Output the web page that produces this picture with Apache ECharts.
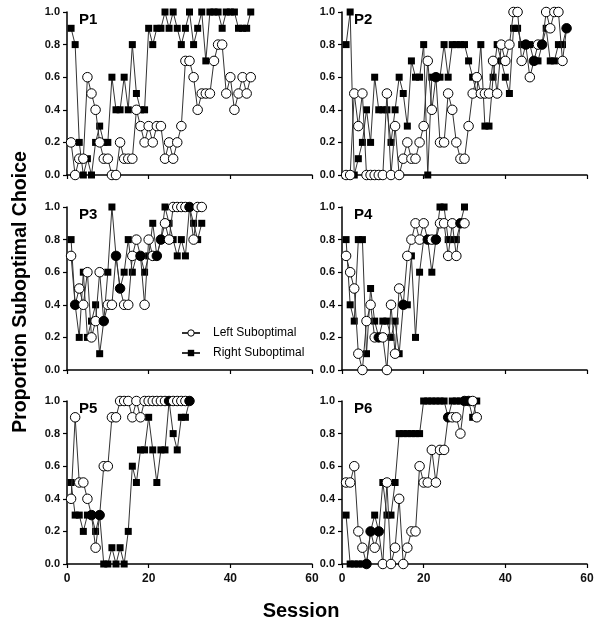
<!DOCTYPE html>
<html>
<head>
<meta charset="utf-8">
<script src="https://cdn.jsdelivr.net/npm/echarts@6/dist/echarts.min.js"></script>
<style>html,body{margin:0;padding:0;background:#fff}#c{width:602px;height:637px}</style>
</head>
<body>
<div id="c"></div>
<script>
// ---- Data (proportion suboptimal choice per session) ----
const panelNames = ['P1', 'P2', 'P3', 'P4', 'P5', 'P6'];
const yTicks = [0, 0.2, 0.4, 0.6, 0.8, 1.0];
const xTicks = [0, 20, 40, 60];

const p1Left  = [0.2,0.0,0.1,0.1,0.6,0.5,0.4,0.2,0.1,0.1,0.0,0.0,0.2,0.1,0.1,0.1,0.4,0.3,0.2,0.3,0.2,0.3,0.3,0.1,0.2,0.1,0.2,0.3,0.7,0.7,0.6,0.4,0.5,0.5,0.5,0.7,0.8,0.8,0.5,0.6,0.4,0.5,0.6,0.5,0.6];
const p1Right = [0.9,0.8,0.2,0.0,0.1,0.0,0.2,0.3,0.2,0.2,0.6,0.4,0.4,0.6,0.4,0.8,0.5,0.4,0.4,0.9,0.8,0.9,0.9,1.0,0.9,1.0,0.9,0.8,0.9,1.0,0.8,0.9,1.0,0.7,1.0,1.0,1.0,0.9,1.0,1.0,1.0,0.9,0.9,0.9,1.0];

const p2Left  = [0.0,0.0,0.5,0.3,0.5,0.0,0.0,0.0,0.0,0.0,0.5,0.0,0.3,0.0,0.1,0.2,0.1,0.1,0.2,0.3,0.7,0.4,0.6,0.2,0.2,0.5,0.4,0.2,0.1,0.1,0.3,0.5,0.6,0.5,0.5,0.5,0.7,0.5,0.8,0.7,0.8,1.0,1.0,0.7,0.8,0.6,0.7,0.8,0.8,1.0,0.9,1.0,1.0,0.7,0.9];
const p2Right = [0.8,1.0,0.0,0.1,0.2,0.4,0.2,0.6,0.4,0.4,0.4,0.2,0.4,0.6,0.5,0.3,0.7,0.6,0.6,0.8,0.0,0.6,0.6,0.6,0.8,0.6,0.8,0.8,0.8,0.8,0.7,0.6,0.5,0.8,0.3,0.3,0.6,0.8,0.7,0.6,0.5,0.9,0.9,0.8,0.8,0.8,0.7,0.7,0.8,0.9,0.7,0.7,0.8,0.8,0.9];

const p3Left  = [0.7,0.4,0.5,0.4,0.6,0.2,0.3,0.6,0.3,0.4,0.4,0.7,0.5,0.4,0.4,0.7,0.8,0.7,0.4,0.8,0.7,0.7,0.8,0.9,0.8,1.0,1.0,1.0,1.0,1.0,0.8,1.0,1.0];
const p3Right = [0.8,0.4,0.2,0.6,0.2,0.3,0.4,0.1,0.3,0.6,1.0,0.7,0.5,0.6,0.8,0.6,0.7,0.7,0.6,0.7,0.9,0.7,0.8,1.0,0.9,0.8,0.7,0.8,0.7,1.0,0.9,0.8,0.9];

const p4Left  = [0.7,0.6,0.5,0.1,0.0,0.3,0.4,0.2,0.2,0.2,0.0,0.4,0.1,0.5,0.4,0.7,0.8,0.9,0.8,0.9,0.8,0.8,0.8,0.9,0.9,0.7,0.9,0.7,0.9,0.9];
const p4Right = [0.8,0.4,0.3,0.8,0.8,0.1,0.5,0.3,0.2,0.3,0.3,0.2,0.3,0.1,0.4,0.4,0.7,0.2,0.6,0.8,0.8,0.6,0.8,1.0,1.0,0.8,0.8,0.8,0.9,1.0];

const p5Left  = [0.4,0.9,0.5,0.5,0.4,0.3,0.1,0.3,0.6,0.6,0.9,0.9,1.0,1.0,1.0,0.9,1.0,0.9,1.0,1.0,1.0,1.0,1.0,1.0,1.0,1.0,1.0,1.0,1.0,1.0];
const p5Right = [0.5,0.3,0.3,0.2,0.3,0.3,0.2,0.3,0.0,0.0,0.1,0.0,0.1,0.0,0.2,0.6,0.5,0.7,0.7,0.9,0.7,0.5,0.7,0.7,1.0,0.8,0.7,0.9,0.9,1.0];

const p6Left  = [0.5,0.5,0.6,0.2,0.1,0.0,0.2,0.1,0.2,0.0,0.5,0.0,0.1,0.4,0.0,0.1,0.2,0.2,0.6,0.5,0.5,0.7,0.5,0.7,0.7,0.9,0.9,0.9,0.8,1.0,1.0,1.0,0.9];
const p6Right = [0.3,0.0,0.0,0.0,0.0,0.0,0.2,0.3,0.2,0.5,0.3,0.3,0.5,0.8,0.8,0.8,0.8,0.8,0.8,1.0,1.0,1.0,1.0,1.0,1.0,0.9,1.0,1.0,1.0,1.0,1.0,0.9,1.0];

const leftSeries  = [p1Left, p2Left, p3Left, p4Left, p5Left, p6Left];
const rightSeries = [p1Right, p2Right, p3Right, p4Right, p5Right, p6Right];

// ---- Layout ----
const colLeft = [67, 342];
const rowTop = [12, 207, 401];
const gW = 245, gH = 163;
const FONT = '"Liberation Sans", Arial, sans-serif';

const grids = [], xAxes = [], yAxes = [], series = [], titles = [];
for (let i = 0; i < 6; i++) {
  const col = i % 2, row = Math.floor(i / 2);
  grids.push({left: colLeft[col], top: rowTop[row], width: gW, height: gH, containLabel: false});
  xAxes.push({
    type: 'value', gridIndex: i, min: xTicks[0], max: xTicks[xTicks.length - 1], interval: 20,
    axisLine: {show: true, lineStyle: {color: '#000', width: 1.5}},
    axisTick: {show: true, length: 4, lineStyle: {color: '#000', width: 1.2}},
    axisLabel: {show: row === 2, margin: 9, fontSize: 12, fontWeight: 'bold', color: '#111', fontFamily: FONT},
    splitLine: {show: false}
  });
  yAxes.push({
    type: 'value', gridIndex: i, min: 0, max: 1, interval: 0.2,
    axisLine: {show: true, lineStyle: {color: '#000', width: 1.5}},
    axisTick: {show: true, length: 4, lineStyle: {color: '#000', width: 1.2}},
    axisLabel: {show: true, margin: 7, fontSize: 11, fontWeight: 'bold', color: '#111', fontFamily: FONT,
      formatter: v => v.toFixed(1)},
    splitLine: {show: false}
  });
  const L = leftSeries[i], R = rightSeries[i];
  series.push({
    name: 'Right Suboptimal', type: 'line', xAxisIndex: i, yAxisIndex: i,
    data: R.map((v, k) => [k + 1, v]),
    symbol: 'rect', symbolSize: 7, clip: false, animation: false,
    lineStyle: {color: '#333', width: 1},
    itemStyle: {color: '#000', borderColor: '#000', borderWidth: 0},
    z: 2
  });
  series.push({
    name: 'Left Suboptimal', type: 'line', xAxisIndex: i, yAxisIndex: i,
    data: L.map((v, k) => ({
      value: [k + 1, v],
      itemStyle: {color: (R[k] !== undefined && Math.abs(R[k] - v) < 1e-9) ? '#000' : '#fff'}
    })),
    symbol: 'circle', symbolSize: 9.5, clip: false, animation: false,
    lineStyle: {color: '#333', width: 1},
    itemStyle: {color: '#fff', borderColor: '#000', borderWidth: 1},
    z: 3
  });
  titles.push({
    text: panelNames[i], left: colLeft[col] + 7, top: rowTop[row] - 5,
    textStyle: {fontSize: 15, fontWeight: 'bold', color: '#000', fontFamily: FONT}
  });
}

const chart = echarts.init(document.getElementById('c'), null, {renderer: 'canvas'});
chart.setOption({
  animation: false,
  backgroundColor: '#fff',
  title: titles,
  grid: grids,
  xAxis: xAxes,
  yAxis: yAxes,
  series: series,
  legend: {
    data: [
      {name: 'Left Suboptimal', itemStyle: {color: '#fff', borderColor: '#000', borderWidth: 1}},
      {name: 'Right Suboptimal', itemStyle: {color: '#000'}}
    ],
    orient: 'vertical', left: 176, top: 322, itemGap: 8, itemWidth: 18, itemHeight: 8,
    textStyle: {fontSize: 12, color: '#000', fontFamily: FONT, padding: [0, 0, 0, 8]},
    selectedMode: false
  },
  graphic: [
    {type: 'text', left: 'center', top: 601,
      style: {text: 'Session', fontSize: 20, fontWeight: 'bold', fill: '#000', fontFamily: FONT}},
    {type: 'text', x: 21, y: 292, rotation: Math.PI / 2, originX: 0, originY: 0,
      style: {text: 'Proportion Suboptimal Choice', fontSize: 19.5, fontWeight: 'bold', fill: '#000',
        fontFamily: FONT, align: 'center', verticalAlign: 'middle'}}
  ]
});
</script>
</body>
</html>
